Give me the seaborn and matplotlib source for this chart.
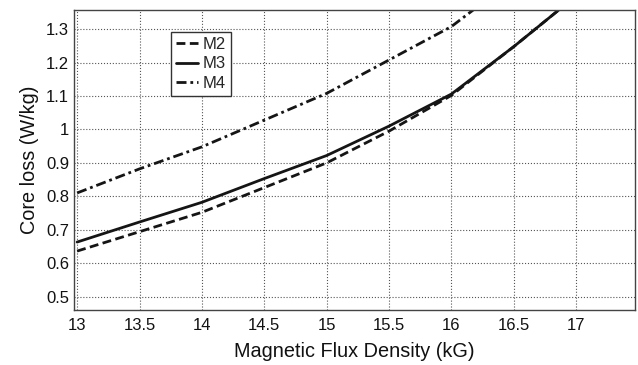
import numpy as np
import pandas as pd
import matplotlib
matplotlib.use('Agg')
import matplotlib.pyplot as plt
import seaborn as sns

# Core loss curves
flux = [13, 13.5, 14, 14.5, 15, 15.5, 16, 16.5, 17]
m2_loss = [0.636, 0.694, 0.752, 0.826, 0.900, 0.995, 1.102, 1.248, 1.40]
m3_loss = [0.663, 0.723, 0.782, 0.853, 0.922, 1.010, 1.106, 1.248, 1.40]
m4_flux = [13, 13.5, 14, 14.5, 15, 15.5, 16, 16.5]
m4_loss = [0.810, 0.882, 0.948, 1.028, 1.108, 1.208, 1.308, 1.45]

df = pd.concat([
    pd.DataFrame({'B': flux, 'loss': m2_loss, 'grade': 'M2'}),
    pd.DataFrame({'B': flux, 'loss': m3_loss, 'grade': 'M3'}),
    pd.DataFrame({'B': m4_flux, 'loss': m4_loss, 'grade': 'M4'}),
], ignore_index=True)

sns.set_style('white')
plt.rcParams['font.family'] = ['Liberation Sans', 'DejaVu Sans']

fig = plt.figure(figsize=(6.38, 3.65), dpi=100)
ax = fig.add_axes([0.116, 0.151, 0.879, 0.822])

sns.lineplot(data=df, x='B', y='loss', hue='grade', style='grade',
             palette={'M2': '#151515', 'M3': '#151515', 'M4': '#151515'},
             dashes={'M2': (3.2, 1.6), 'M3': '', 'M4': (3.6, 1.4, 1, 1.4)},
             linewidth=2.0, ax=ax, sort=False)

ax.set_xlim(12.975, 17.47)
ax.set_ylim(0.46, 1.358)
ax.set_xticks([13, 13.5, 14, 14.5, 15, 15.5, 16, 16.5, 17])
ax.set_xticklabels(['13', '13.5', '14', '14.5', '15', '15.5', '16', '16.5', '17'])
ax.set_yticks([0.5, 0.6, 0.7, 0.8, 0.9, 1.0, 1.1, 1.2, 1.3])
ax.set_yticklabels(['0.5', '0.6', '0.7', '0.8', '0.9', '1', '1.1', '1.2', '1.3'])
ax.grid(True, linestyle=':', color='#555555', linewidth=0.8)
ax.tick_params(axis='both', labelsize=12, direction='in', length=3, colors='#333333', labelcolor='#111111')
ax.tick_params(axis='x', pad=6)
for s in ax.spines.values():
    s.set_color('#444444')
    s.set_linewidth(1.0)

ax.set_xlabel('Magnetic Flux Density (kG)', fontsize=14.3, color='#111111', labelpad=6)
ax.set_ylabel('Core loss (W/kg)', fontsize=14.3, color='#111111', labelpad=5)

leg = ax.legend(loc='upper left', bbox_to_anchor=(0.173, 0.927), fontsize=12,
                frameon=True, fancybox=False, handlelength=1.3, handletextpad=0.3,
                borderpad=0.3, labelspacing=0.28, borderaxespad=0)
leg.get_frame().set_edgecolor('#333333')
leg.get_frame().set_linewidth(1.0)
leg.get_frame().set_alpha(1)

fig.savefig('out.png', dpi=100)
